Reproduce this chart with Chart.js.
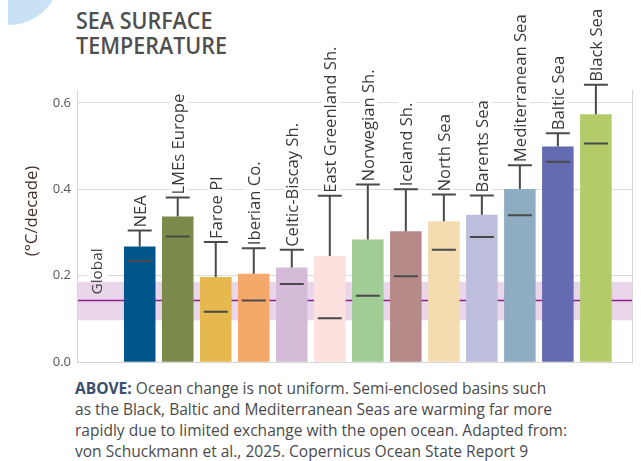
<!DOCTYPE html>
<html>
<head>
<meta charset="utf-8">
<script src="https://cdn.jsdelivr.net/npm/chart.js@4.4.1/dist/chart.umd.min.js"></script>
<style>
  html, body { margin: 0; padding: 0; }
  body { width: 641px; height: 461px; background: #fff; position: relative; overflow: hidden; font-family: "Open Sans", sans-serif; }
  #blob { position: absolute; left: 8px; top: 0; width: 60px; height: 40px; overflow: hidden; }
  #blob div { position: absolute; left: -50px; top: -77px; width: 102px; height: 102px; border-radius: 50%; background: #c8e1f5; }
  #title { position: absolute; left: 76px; top: 8px; font-size: 23px; line-height: 25px; font-weight: 600; color: #4f4f4f; }
  #caption { position: absolute; left: 75px; top: 378px; font-size: 16px; line-height: 21px; color: #4a4a4a; }
  .fit { display: block; white-space: nowrap; }
  .fit span.in { display: inline-block; transform-origin: 0 0; }
  #caption b { color: #3a4d6e; font-weight: 700; }
  #wrap { position: absolute; left: 0; top: 0; width: 641px; height: 376px; }
</style>
</head>
<body>
<div id="blob"><div></div></div>
<div id="title">
  <div class="fit"><span class="in">SEA SURFACE</span></div>
  <div class="fit"><span class="in" id="titleRef">TEMPERATURE</span></div>
</div>
<div id="wrap"><canvas id="chart" width="641" height="376"></canvas></div>
<div id="caption">
  <div class="fit"><span class="in"><b>ABOVE:</b> Ocean change is not uniform. Semi-enclosed basins such</span></div>
  <div class="fit"><span class="in">as the Black, Baltic and Mediterranean Seas are warming far more</span></div>
  <div class="fit"><span class="in" id="capRef">rapidly due to limited exchange with the open ocean. Adapted from:</span></div>
  <div class="fit"><span class="in">von Schuckmann et al., 2025. Copernicus Ocean State Report 9</span></div>
</div>
<script>
const categories = ['NEA', 'LMEs Europe', 'Faroe Pl', 'Iberian Co.', 'Celtic-Biscay Sh.', 'East Greenland Sh.',
  'Norwegian Sh.', 'Iceland Sh.', 'North Sea', 'Barents Sea', 'Mediterranean Sea', 'Baltic Sea', 'Black Sea'];
const trendValues = [0.268, 0.337, 0.197, 0.205, 0.219, 0.246, 0.284, 0.303, 0.326, 0.341, 0.401, 0.499, 0.574];
const medianValues = [0.234, 0.291, 0.117, 0.143, 0.181, 0.102, 0.154, 0.199, 0.260, 0.290, 0.340, 0.464, 0.506];
const upperValues = [0.305, 0.381, 0.278, 0.264, 0.260, 0.385, 0.411, 0.400, 0.388, 0.386, 0.456, 0.530, 0.642];
const barColors = ['#00558a', '#7b8a4a', '#e5b850', '#f4a96b', '#d4bcd8', '#fde1df', '#a1cc96',
  '#b78a8a', '#f2dcb0', '#bdbedb', '#8eadc2', '#646bb0', '#b3cc69'];
const yTicks = [0, 0.2, 0.4, 0.6];
const globalLabel = 'Global';
const globalMean = 0.143;
const globalRange = [0.097, 0.186];

// squeeze text lines so the wide fallback fonts look like the condensed original
function fitLines(refId, target, selector) {
  const ref = document.getElementById(refId);
  const k = target / ref.getBoundingClientRect().width;
  document.querySelectorAll(selector).forEach(el => { el.style.transform = 'scaleX(' + k + ')'; });
}
fitLines('titleRef', 151, '#title span.in');
fitLines('capRef', 492, '#caption span.in');

const LABEL_FONT = '400 16px "Open Sans"';

function vText(ctx, text, x, y, font, color, align, bg, squeeze) {
  ctx.save();
  ctx.translate(x, y);
  ctx.rotate(-Math.PI / 2);
  ctx.scale(squeeze, 1);
  ctx.font = font;
  ctx.textAlign = align;
  ctx.textBaseline = 'middle';
  const w = ctx.measureText(text).width;
  if (bg) {
    ctx.fillStyle = bg;
    const x0 = align === 'center' ? -w / 2 : 0;
    ctx.fillRect(x0 - 2, -9, w + 5, 18);
  }
  ctx.fillStyle = color;
  ctx.fillText(text, 0, 1);
  ctx.restore();
}

const overlay = {
  id: 'overlay',
  beforeDatasetsDraw(chart) {
    const { ctx, chartArea: a, scales: { x, y } } = chart;
    const gx = x.getPixelForValue(-0.12);
    // white patch behind the Global label where it crosses the grid
    ctx.save();
    ctx.fillStyle = '#fff';
    ctx.fillRect(gx - 10, y.getPixelForValue(0.22), 20, 16);
    const top = y.getPixelForValue(globalRange[1]);
    const bot = y.getPixelForValue(globalRange[0]);
    ctx.fillStyle = '#ead6eb';
    ctx.fillRect(a.left + 1, top, a.right - a.left - 1, bot - top);
    ctx.strokeStyle = '#8c1f8f';
    ctx.lineWidth = 1.5;
    ctx.beginPath();
    ctx.moveTo(a.left + 1, y.getPixelForValue(globalMean));
    ctx.lineTo(a.right, y.getPixelForValue(globalMean));
    ctx.stroke();
    ctx.restore();
    vText(ctx, globalLabel, gx, y.getPixelForValue(globalMean) - 6, '400 15px "Open Sans"', '#444', 'left', null, 1.02);
    // right frame line
    ctx.save();
    ctx.strokeStyle = '#d6d6d6';
    ctx.lineWidth = 1;
    ctx.beginPath();
    ctx.moveTo(a.right + 0.5, a.top);
    ctx.lineTo(a.right + 0.5, a.bottom);
    ctx.stroke();
    ctx.restore();
  },
  afterDatasetsDraw(chart) {
    const { ctx, scales: { x, y } } = chart;
    // labels first, so their white backing never hides the caps
    categories.forEach((c, i) => {
      const cx = x.getPixelForValue(i + 1);
      const yu = y.getPixelForValue(upperValues[i]);
      vText(ctx, c, cx + 1, yu - 3, LABEL_FONT, '#3a3a3a', 'left', '#fff', 1.04);
    });
    ctx.save();
    ctx.strokeStyle = '#4a4a4a';
    ctx.lineWidth = 2;
    categories.forEach((c, i) => {
      const cx = x.getPixelForValue(i + 1);
      const yt = y.getPixelForValue(trendValues[i]);
      const yu = y.getPixelForValue(upperValues[i]);
      const ym = y.getPixelForValue(medianValues[i]);
      ctx.beginPath();
      ctx.moveTo(cx, yt); ctx.lineTo(cx, yu);
      ctx.moveTo(cx - 12, yu); ctx.lineTo(cx + 12, yu);
      ctx.moveTo(cx - 12, ym); ctx.lineTo(cx + 12, ym);
      ctx.stroke();
    });
    ctx.restore();
    vText(ctx, '(°C/decade)', 31, 211, '400 16px "Open Sans"', '#3f3129', 'center', null, 1.05);
  }
};

new Chart(document.getElementById('chart'), {
  type: 'bar',
  data: {
    datasets: [{
      data: trendValues.map((v, i) => ({ x: i + 1, y: v })),
      backgroundColor: barColors,
      borderWidth: 0,
      categoryPercentage: 1,
      barPercentage: 0.83
    }]
  },
  options: {
    responsive: false,
    animation: false,
    layout: { padding: { left: 0, top: 90, right: 9, bottom: 3 } },
    plugins: { legend: { display: false }, tooltip: { enabled: false } },
    scales: {
      x: {
        type: 'linear',
        min: -0.65,
        max: 13.95,
        offset: false,
        grid: { display: false },
        ticks: { display: false },
        border: { display: true, color: '#d6d6d6', width: 1 },
        afterFit: s => { s.height = 0; }
      },
      y: {
        min: 0,
        max: 0.63,
        afterBuildTicks: s => { s.ticks = yTicks.map(v => ({ value: v })); },
        ticks: {
          callback: v => v.toFixed(1),
          color: '#555',
          font: { family: 'Open Sans', size: 13 },
          padding: 6
        },
        grid: { color: '#dcdcdc', lineWidth: 1, drawTicks: false },
        border: { display: true, color: '#d6d6d6', width: 1 },
        afterFit: s => { s.width = 77; }
      }
    }
  },
  plugins: [overlay]
});
</script>
</body>
</html>
